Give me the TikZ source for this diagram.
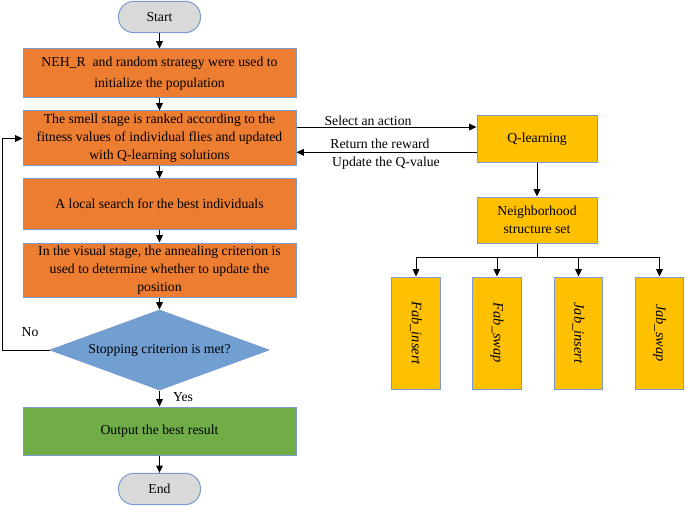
\documentclass[tikz,border=0pt]{standalone}
\usepackage{fontspec}
\setmainfont{Liberation Serif}
\usepackage{graphicx}
\usetikzlibrary{arrows.meta,shapes.geometric}

\definecolor{boxline}{HTML}{7B9BD0}
\definecolor{stageorange}{HTML}{ED7D31}
\definecolor{qyellow}{HTML}{FFC000}
\definecolor{outgreen}{HTML}{70AD47}
\definecolor{decideblue}{HTML}{729FD1}
\definecolor{termgrey}{HTML}{D9D9D9}

\tikzset{every picture/.style={line width=0.75pt},
	stagebox/.style={draw=boxline,line width=0.75pt,fill=stageorange,minimum width=204.75pt,align=center,inner sep=0.75pt,font=\fontsize{10.3}{13.5}\selectfont},
	qbox/.style={draw=boxline,line width=0.75pt,fill=qyellow,minimum width=90pt,align=center,inner sep=0.75pt,font=\fontsize{10.3}{13.5}\selectfont},
	opbox/.style={draw=boxline,line width=0.75pt,fill=qyellow,minimum width=36.5pt,minimum height=84pt,inner sep=0.75pt,font=\fontsize{10.8}{13.5}\selectfont\itshape},
	termbox/.style={draw=boxline,line width=0.75pt,fill=termgrey,rounded corners=11.5pt,minimum width=61.5pt,minimum height=23.5pt,inner sep=0.75pt,font=\fontsize{10.3}{13.5}\selectfont},
	decide/.style={diamond,draw=boxline,line width=0.75pt,fill=decideblue,shape aspect=2.73,minimum width=164pt,minimum height=60pt,inner sep=0pt,font=\fontsize{10.3}{13.5}\selectfont},
	lbl/.style={inner sep=0.75pt,font=\fontsize{10.3}{13.5}\selectfont},
	flow/.style={-{Triangle[length=5.5pt,width=5pt]},line width=0.75pt}
}

\begin{document}
\begin{tikzpicture}[x=0.75pt,y=0.75pt,yscale=-1,xscale=1]
	\useasboundingbox (0,0) rectangle (685,506);

	%Shape: Start / End
	\node [termbox] (start) at (159.5,17) {Start};
	\node [termbox] (end) at (159.5,489) {End};

	%Shape: Rectangles of the main flow
	\node [stagebox,minimum height=36.75pt] (init) at (159.5,73.5) {NEH\_R~ and random strategy were used to\\[2pt]initialize the population};
	\node [stagebox,minimum height=41.25pt] (smell) at (159.5,138.5) {The smell stage is ranked according to the\\fitness values of individual flies and updated\\with Q-learning solutions};
	\node [stagebox,minimum height=37.5pt] (local) at (159.5,204) {A local search for the best individuals};
	\node [stagebox,minimum height=40.5pt] (visual) at (159.5,270) {In the visual stage, the annealing criterion is\\used to determine whether to update the\\position};
	%Shape: Diamond
	\node [decide] (stop) at (159.5,350) {Stopping criterion is met?};
	\node [stagebox,fill=outgreen,minimum height=36pt] (output) at (159.5,431) {Output the best result};

	%Shape: Q-learning side
	\node [qbox,minimum height=35.25pt] (qlearn) at (537,139) {Q-learning};
	\node [qbox,minimum height=34.5pt] (nbh) at (537,220) {Neighborhood\\structure set};
	\node [opbox] (fi) at (416,333) {\rotatebox{-90}{Fab\_insert}};
	\node [opbox] (fs) at (497,333) {\rotatebox{-90}{Fab\_swap}};
	\node [opbox] (ji) at (578.5,333) {\rotatebox{-90}{Jab\_insert}};
	\node [opbox] (js) at (659.5,333) {\rotatebox{-90}{Jab\_swap}};

	\coordinate (loop) at (2,350);
	\coordinate (branch) at (537,257);

	%Straight Lines
	\draw [flow] (start) -- (init);
	\draw [flow] (init) -- (smell);
	\draw [flow] (smell) -- (local);
	\draw [flow] (local) -- (visual);
	\draw [flow] (visual) -- (stop);
	\draw [flow] (stop) -- (output);
	\draw [flow] (output) -- (end);
	\draw [flow] (stop.west) -- (loop) |- (smell.west);
	\draw [flow] ([yshift=-8.6pt]smell.east) -- ([yshift=-8.6pt]smell.east -| qlearn.west);
	\draw [flow] ([yshift=10pt]qlearn.west) -- ([yshift=10pt]qlearn.west -| smell.east);
	\draw [flow] (qlearn) -- (nbh);
	\foreach \op in {fi,fs,ji,js}
		\draw [flow] (nbh.south) -- (branch) -| (\op.north);

	% Text Node
	\node [lbl] (no) at (30,332) {No};
	% Text Node
	\node [lbl] (yes) at (183,397) {Yes};
	% Text Node
	\node [lbl] (select) at (368,121) {Select an action};
	% Text Node
	\node [lbl] (reward) at (380,144) {Return the reward};
	% Text Node
	\node [lbl] (update) at (386,163) {Update the Q-value};

\end{tikzpicture}
\end{document}
